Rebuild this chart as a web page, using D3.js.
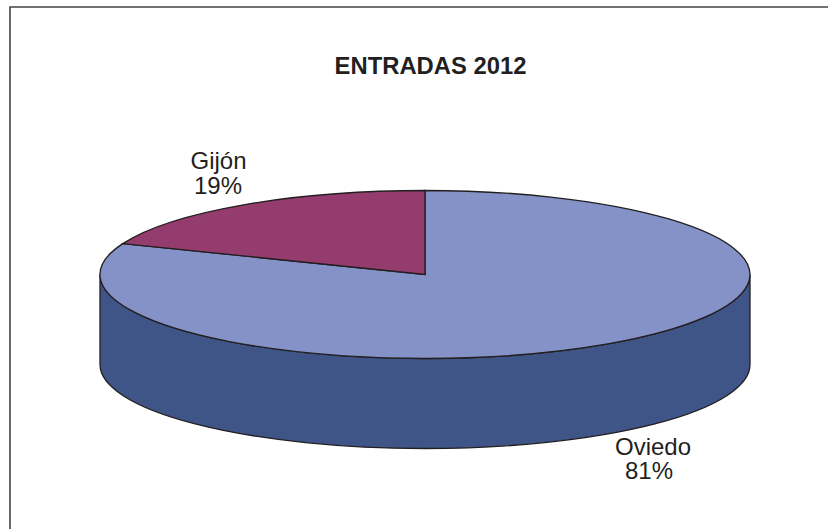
<!DOCTYPE html>
<html><head><meta charset="utf-8">
<script src="https://cdn.jsdelivr.net/npm/d3@7"></script>
<style>html,body{margin:0;background:#fff}svg{display:block}</style>
</head><body><svg id="c" width="828" height="529"></svg>
<script>
const title = "ENTRADAS 2012";
const categories = ["Oviedo", "Gijón"];
const shares = [81, 19];
const topColors = ["#8592c8", "#943c6e"];
const wallColor = "#3f5587";
const inkColor = "#231f20";

const svg = d3.select("#c");
const cx = 425, cy = 274.5, rx = 325, ry = 84, depth = 90;
const font = "Liberation Sans, Arial, sans-serif";

// Frame: only the top and left rules are present, running off the page edges
svg.append("path").attr("d", "M10,529 V7 H828").attr("fill", "none")
  .attr("stroke", "#444").attr("stroke-width", 1.6);

svg.append("text").attr("x", 430.5).attr("y", 74).attr("text-anchor", "middle")
  .attr("font-family", font).attr("font-weight", "bold")
  .attr("font-size", 23.8).attr("fill", inkColor).text(title);

const wallPath = `M${cx - rx},${cy} V${cy + depth} A${rx},${ry} 0 0 0 ${cx + rx},${cy + depth} V${cy} A${rx},${ry} 0 0 1 ${cx - rx},${cy} Z`;
svg.append("path").attr("d", wallPath).attr("fill", wallColor)
  .attr("stroke", inkColor).attr("stroke-width", 1.3);

const pie = d3.pie().sort(null)(shares);
const arc = d3.arc().innerRadius(0).outerRadius(1);
svg.append("g").attr("transform", `translate(${cx},${cy}) scale(${rx},${ry})`)
  .selectAll("path").data(pie).join("path")
  .attr("d", arc).attr("fill", (d, i) => topColors[i])
  .attr("stroke", inkColor).attr("stroke-width", 1.3)
  .attr("vector-effect", "non-scaling-stroke").attr("stroke-linejoin", "miter");

const namePos = [[653, 455], [218.5, 169]];
const pctPos = [[649, 479], [218, 194]];
const labels = svg.append("g").attr("font-family", font)
  .attr("font-size", 24).attr("fill", inkColor).attr("text-anchor", "middle");
categories.forEach((c, i) => {
  const t = labels.append("text");
  t.append("tspan").attr("x", namePos[i][0]).attr("y", namePos[i][1]).text(c);
  t.append("tspan").attr("x", pctPos[i][0]).attr("y", pctPos[i][1]).text(shares[i] + "%");
});
</script></body></html>
